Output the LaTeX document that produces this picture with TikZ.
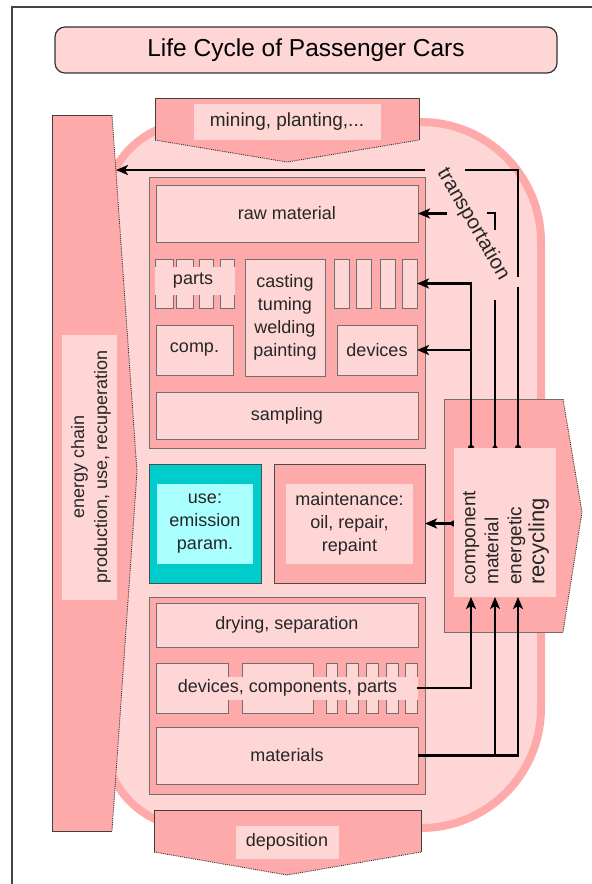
\documentclass[tikz,border=0pt]{standalone}
\usepackage{fontspec}
\setmainfont{Liberation Sans}
\usetikzlibrary{arrows.meta}
\definecolor{lp}{HTML}{FFD6D6}
\definecolor{mp}{HTML}{FFAAAA}
\definecolor{cy}{HTML}{00CCCC}
\definecolor{lcy}{HTML}{AAFFFF}
\definecolor{edgec}{HTML}{707070}
\definecolor{framec}{HTML}{444444}
\begin{document}
\begin{tikzpicture}[x=1pt,y=-1pt,
  lbl/.style={font=\fontsize{18}{23}\selectfont, align=center, inner sep=0pt, text=black!85},
  sbox/.style={draw=edgec, fill=lp, line width=0.8pt, anchor=north west, inner sep=0pt, outer sep=0pt},
  bblock/.style={draw=edgec, fill=mp, line width=0.8pt, anchor=north west, inner sep=0pt, outer sep=0pt},
  band/.style={fill=lp, anchor=north west, inner sep=0pt, outer sep=0pt},
  conn/.style={line width=2.8pt, draw=black},
  thinconn/.style={line width=1.3pt, draw=black},
  tip/.style={-{Stealth[length=12pt,width=10pt,inset=3pt]}},
  dotedge/.style={draw=black!80, densely dotted, line width=0.9pt},
  solidedge/.style={draw=black!75, line width=0.9pt}
]
\useasboundingbox (0,0) rectangle (592,884);
% frame
\draw[draw=framec, line width=1.5pt] (12,884) -- (12,7) -- (592,7);
% title
\node[draw=black!80, fill=lp, line width=1.2pt, rounded corners=10pt, minimum width=502pt, minimum height=46pt, inner sep=0pt,
      font=\fontsize{24.5}{26}\selectfont] (title) at (306,50) {Life Cycle of Passenger Cars};
% background rounded shape
\filldraw[draw=mp, fill=lp, line width=8pt] (194,122) -- (421,122) .. controls (487.3,122) and (541,175.7) .. (541,242)
  -- (541,708) .. controls (541,774.3) and (487.3,828) .. (421,828) -- (194,828)
  .. controls (144.3,828) and (104,787.7) .. (104,738) -- (104,212) .. controls (104,162.3) and (144.3,122) .. (194,122) -- cycle;
% energy chain arrow
\fill[mp] (52,115) -- (112,115) -- (137,472) -- (112,831) -- (52,831) -- cycle;
\draw[solidedge] (112,115) -- (52,115) -- (52,831) -- (112,831);
\draw[dotedge] (112,115) -- (137,472) -- (112,831);
\node[band, minimum width=55pt, minimum height=265pt] (enband) at (62,335) {};
\node[lbl, rotate=90] (entext) at (91,467) {energy chain\\production, use, recuperation};
% mining arrow
\fill[mp] (155,98) -- (419,98) -- (419,140) -- (287,162) -- (155,140) -- cycle;
\draw[solidedge] (155,140) -- (155,98) -- (419,98) -- (419,140);
\draw[dotedge] (155,140) -- (287,162) -- (419,140);
\node[band, minimum width=187pt, minimum height=36pt] (minband) at (194,104) {};
\node[lbl, font=\fontsize{19}{23}\selectfont] (mintext) at (287,122) {mining, planting,...};
% deposition arrow
\fill[mp] (154,810) -- (421,810) -- (421,852) -- (287,875) -- (154,852) -- cycle;
\draw[solidedge] (154,852) -- (154,810) -- (421,810) -- (421,852);
\draw[dotedge] (154,852) -- (287,875) -- (421,852);
\node[band, minimum width=103pt, minimum height=33pt] (depband) at (236,826) {};
\node[lbl] (deptext) at (287,842) {deposition};
% production block
\node[bblock, minimum width=276pt, minimum height=271pt] (prod) at (149,177) {};
\node[sbox, minimum width=262pt, minimum height=57pt] (raw) at (156,185) {};
\node[lbl] at (raw.center) {raw material};
\node[sbox, minimum width=18pt, minimum height=49pt] (p1) at (155,259) {};
\node[sbox, minimum width=17pt, minimum height=49pt] (p2) at (176,259) {};
\node[sbox, minimum width=14pt, minimum height=49pt] (p3) at (199,259) {};
\node[sbox, minimum width=14pt, minimum height=49pt] (p4) at (220,259) {};
\node[band, minimum width=80pt, minimum height=28pt] (pband) at (154.5,267) {};
\node[lbl] (ptext) at (193,281) {parts};
\node[sbox, minimum width=80pt, minimum height=117pt] (cast) at (245,259) {};
\node[lbl] at (cast.center) {casting\\tuming\\welding\\painting};
\node[sbox, minimum width=15pt, minimum height=49pt] (r1) at (334,259) {};
\node[sbox, minimum width=15pt, minimum height=49pt] (r2) at (356,259) {};
\node[sbox, minimum width=15pt, minimum height=49pt] (r3) at (380,259) {};
\node[sbox, minimum width=15pt, minimum height=49pt] (r4) at (402,259) {};
\node[sbox, minimum width=77pt, minimum height=50pt] (comp) at (156,325) {};
\node[lbl] at (comp.center) {comp.};
\node[sbox, minimum width=80pt, minimum height=50pt] (dev) at (337,325) {};
\node[lbl] at (dev.center) {devices};
\node[sbox, minimum width=262pt, minimum height=47pt] (samp) at (156,392) {};
\node[lbl] at (samp.center) {sampling};
% use box
\node[draw=black!70, fill=cy, line width=0.8pt, anchor=north west, inner sep=0pt, minimum width=112pt, minimum height=119pt] (use) at (149,464) {};
\node[band, fill=lcy, minimum width=96pt, minimum height=80pt] (useband) at (157,484) {};
\node[lbl] at (useband.center) {use:\\emission\\param.};
% maintenance box
\node[bblock, draw=black!70, minimum width=151pt, minimum height=119pt] (maint) at (274,464) {};
\node[band, minimum width=127pt, minimum height=80pt] (mband) at (286,484) {};
\node[lbl] at (mband.center) {maintenance:\\oil, repair,\\repaint};
% bottom block
\node[bblock, minimum width=276pt, minimum height=197pt] (disp) at (149,597) {};
\node[sbox, minimum width=262pt, minimum height=44pt] (dry) at (156,603) {};
\node[lbl] at (dry.center) {drying, separation};
\node[sbox, minimum width=72pt, minimum height=50pt] (d1) at (156,663) {};
\node[sbox, minimum width=71pt, minimum height=50pt] (d2) at (242,663) {};
\node[sbox, minimum width=11pt, minimum height=50pt] (d3) at (326,663) {};
\node[sbox, minimum width=12pt, minimum height=50pt] (d4) at (346,663) {};
\node[sbox, minimum width=12pt, minimum height=50pt] (d5) at (366,663) {};
\node[sbox, minimum width=12pt, minimum height=50pt] (d6) at (386,663) {};
\node[sbox, minimum width=12pt, minimum height=50pt] (d7) at (405,663) {};
\node[band, minimum width=250pt, minimum height=23pt] (dband) at (168,677) {};
\node[lbl] (dtext) at (287.5,688) {devices, components, parts};
\node[sbox, minimum width=262pt, minimum height=57pt] (mat) at (156,727) {};
\node[lbl] at (mat.center) {materials};
% recycling arrow box
\fill[mp] (444,399) -- (563,399) -- (582,512) -- (563,632) -- (444,632) -- cycle;
\draw[solidedge, draw=edgec] (563,399) -- (444,399) -- (444,632) -- (563,632);
\draw[dotedge] (563,399) -- (582,512) -- (563,632);
\fill[black] (471,448) circle (3.2pt) (495,448) circle (2.6pt) (518,448) circle (3.2pt) (454,523.5) circle (3.2pt);
\node[band, minimum width=102pt, minimum height=149pt] (recin) at (454,448) {};
\node[rotate=90, anchor=west, align=left, inner sep=0pt, text=black!85, font=\fontsize{19}{23}\selectfont] (rectext) at (506,585)
  {component\\material\\energetic\\{\fontsize{22}{23}\selectfont recycling}};
% transportation label
\node[rotate=-60, inner sep=0pt, text=black!85, font=\fontsize{20.5}{22}\selectfont] (trans) at (473,224) {transportation};
% coordinates
\coordinate (t1) at (471,448);
\coordinate (t2) at (495,448);
\coordinate (t3) at (518,448);
\coordinate (b1) at (471,597);
\coordinate (b2) at (495,597);
\coordinate (b3) at (518,597);
\coordinate (eng) at (116,170);
\coordinate (j1) at (471,350);
% connectors: recycling -> energy chain (transportation)
\draw[conn] (t3) -- (518,287);
\draw[conn] (518,277) |- (465,170);
\draw[conn,tip] (425,170) -- (eng);
% recycling -> raw material
\draw[thinconn] (t2) -- (495,300);
\draw[thinconn] (495,230) |- (487,213);
\draw[conn,tip] (447,213.5) -- (raw.east);
% recycling -> parts / devices
\draw[conn,tip] (t1) |- (r4.east);
\draw[conn,tip] (j1) -- (dev.east);
% recycling -> maintenance
\draw[conn,tip] (recin.west |- maint.east) -- (maint.east);
% disposal -> recycling
\draw[conn,tip] (d7.east) -| (b1);
\draw[conn,tip] (mat.east) -| (b3);
\draw[thinconn,tip] (b2 |- mat.east) -- (b2);
\end{tikzpicture}
\end{document}
